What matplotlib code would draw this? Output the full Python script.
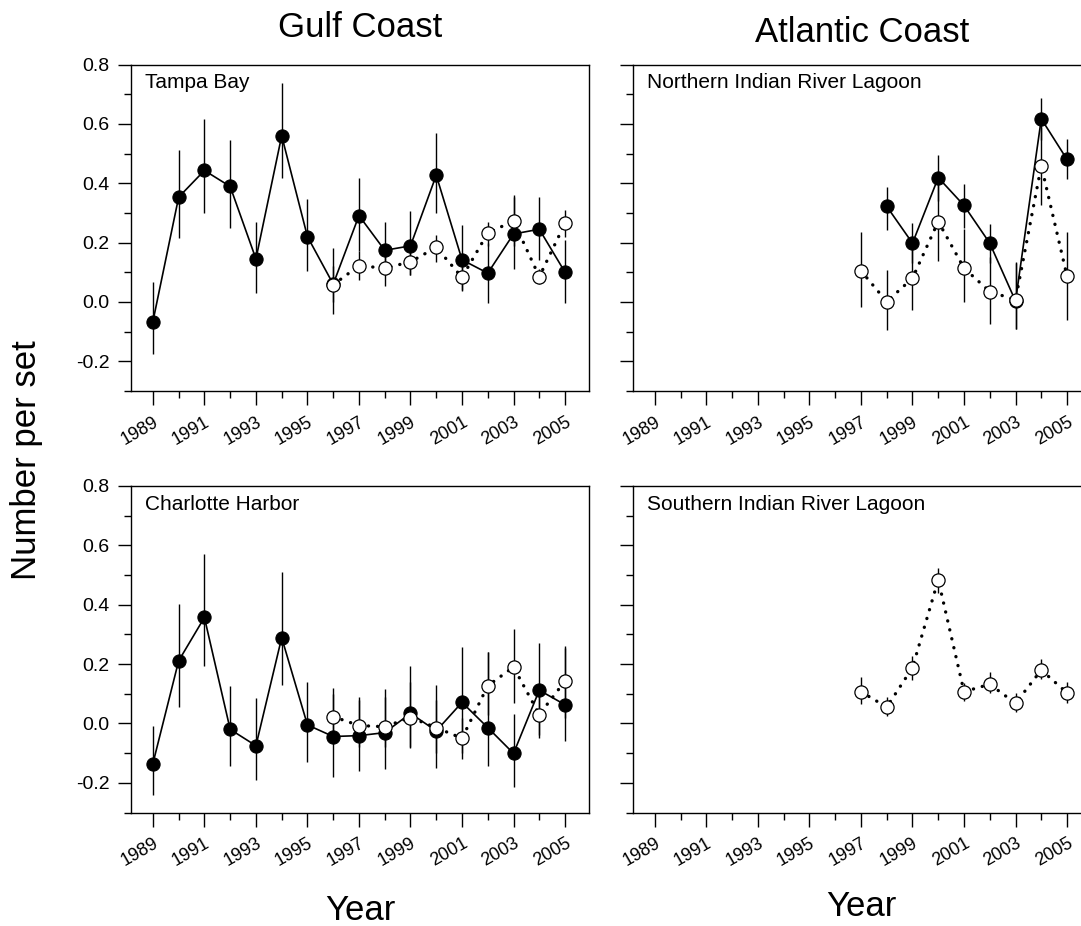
import matplotlib
matplotlib.use('Agg')
import matplotlib.pyplot as plt
from matplotlib.ticker import FixedLocator

plt.rcParams['font.family'] = ['Liberation Sans', 'DejaVu Sans']

# ---- data ----
years_long = list(range(1989, 2006))
years_96 = list(range(1996, 2006))
years_97 = list(range(1997, 2006))
years_98 = list(range(1998, 2006))

# Tampa Bay
tampa_fill = [-0.066, 0.353, 0.443, 0.389, 0.145, 0.560, 0.220, 0.060, 0.291, 0.174, 0.189, 0.427, 0.142, 0.097, 0.229, 0.245, 0.100]
tampa_fill_lo = [-0.175, 0.215, 0.299, 0.249, 0.029, 0.419, 0.105, -0.041, 0.17, 0.09, 0.09, 0.301, 0.04, -0.004, 0.110, 0.14, -0.005]
tampa_fill_hi = [0.066, 0.513, 0.617, 0.546, 0.271, 0.738, 0.347, 0.181, 0.417, 0.271, 0.307, 0.569, 0.260, 0.20, 0.355, 0.355, 0.21]
tampa_open = [0.058, 0.122, 0.114, 0.135, 0.184, 0.083, 0.232, 0.273, 0.085, 0.265]
tampa_open_lo = [0.0, 0.074, 0.054, 0.091, 0.134, 0.038, 0.19, 0.19, 0.06, 0.22]
tampa_open_hi = [0.12, 0.17, 0.17, 0.18, 0.226, 0.13, 0.271, 0.359, 0.11, 0.31]

# Charlotte Harbor
charl_fill = [-0.135, 0.211, 0.357, -0.020, -0.075, 0.289, -0.005, -0.044, -0.041, -0.031, 0.034, -0.025, 0.071, -0.014, -0.101, 0.112, 0.063]
charl_fill_lo = [-0.24, 0.057, 0.195, -0.145, -0.19, 0.130, -0.13, -0.18, -0.16, -0.155, -0.08, -0.15, -0.10, -0.145, -0.215, -0.04, -0.06]
charl_fill_hi = [-0.008, 0.403, 0.572, 0.127, 0.087, 0.510, 0.139, 0.10, 0.08, 0.09, 0.192, 0.13, 0.259, 0.242, 0.031, 0.27, 0.255]
charl_open = [0.023, -0.007, -0.011, 0.020, -0.014, -0.050, 0.127, 0.190, 0.030, 0.143]
charl_open_lo = [-0.06, -0.08, -0.08, -0.084, -0.10, -0.12, 0.03, 0.068, -0.05, 0.02]
charl_open_hi = [0.121, 0.09, 0.115, 0.14, 0.08, 0.02, 0.24, 0.319, 0.12, 0.26]

# Northern Indian River Lagoon
nirl_fill = [0.322, 0.198, 0.419, 0.325, 0.198, 0.003, 0.617, 0.480]
nirl_fill_lo = [0.241, 0.13, 0.34, 0.25, 0.13, -0.09, 0.545, 0.415]
nirl_fill_hi = [0.387, 0.265, 0.496, 0.397, 0.262, 0.136, 0.687, 0.55]
nirl_open = [0.105, 0.001, 0.080, 0.271, 0.114, 0.035, 0.007, 0.459, 0.087]
nirl_open_lo = [-0.016, -0.094, -0.027, 0.138, 0.001, -0.075, -0.09, 0.327, -0.06]
nirl_open_hi = [0.235, 0.106, 0.19, 0.404, 0.245, 0.15, 0.13, 0.59, 0.235]

# Southern Indian River Lagoon
sirl_open = [0.107, 0.055, 0.188, 0.484, 0.107, 0.132, 0.068, 0.180, 0.103]
sirl_open_lo = [0.066, 0.025, 0.147, 0.439, 0.074, 0.102, 0.040, 0.149, 0.07]
sirl_open_hi = [0.156, 0.090, 0.228, 0.525, 0.136, 0.173, 0.102, 0.217, 0.14]

year_labels = [str(y) for y in range(1989, 2006, 2)]


def series(ax, yrs, vals, lo, hi, filled):
    yerr = [[v - l for v, l in zip(vals, lo)], [h - v for v, h in zip(vals, hi)]]
    z = 3 if filled else 5
    ax.errorbar(yrs, vals, yerr=yerr, fmt='none', ecolor='black', elinewidth=1.0, capsize=0, zorder=z)
    if filled:
        ax.plot(yrs, vals, color='black', lw=1.2, zorder=z)
        ax.plot(yrs, vals, ls='none', marker='o', ms=9.5, mfc='black', mec='black', mew=0.8, zorder=z + 0.5)
    else:
        ax.plot(yrs, vals, color='black', lw=2.4, ls=(0, (0.05, 2.7)), dash_capstyle='round', zorder=z)
        ax.plot(yrs, vals, ls='none', marker='o', ms=9.5, mfc='white', mec='black', mew=0.9, zorder=z + 0.5)


def setup(ax, label, ylabels):
    ax.set_xlim(1988.15, 2005.93)
    ax.set_ylim(-0.3, 0.8)
    ax.xaxis.set_major_locator(FixedLocator(range(1989, 2006, 2)))
    ax.xaxis.set_minor_locator(FixedLocator(range(1990, 2005, 2)))
    ax.set_xticklabels(year_labels, rotation=30, ha='right', rotation_mode='anchor', fontsize=13)
    ax.yaxis.set_major_locator(FixedLocator([-0.2, 0.0, 0.2, 0.4, 0.6, 0.8]))
    ax.yaxis.set_minor_locator(FixedLocator([-0.3, -0.1, 0.1, 0.3, 0.5, 0.7]))
    if ylabels:
        ax.set_yticklabels(['-0.2', '0.0', '0.2', '0.4', '0.6', '0.8'], fontsize=14)
    else:
        ax.set_yticklabels([])
    ax.tick_params(which='both', direction='out', width=1.0, color='black')
    ax.tick_params(axis='y', which='major', length=9.5, pad=6)
    ax.tick_params(axis='y', which='minor', length=5)
    ax.tick_params(axis='x', which='major', length=10, pad=6)
    ax.tick_params(axis='x', which='minor', length=5)
    for s in ax.spines.values():
        s.set_linewidth(1.0)
        s.set_color('black')
    ax.text(0.031, 0.928, label, transform=ax.transAxes, fontsize=15, va='baseline', ha='left')


fig = plt.figure(figsize=(10.81, 9.26), dpi=100)
W, H = 1081.0, 926.0
aw, ah = 458 / W, 326.5 / H
ax1 = fig.add_axes([131 / W, 1 - 391 / H, aw, ah])
ax2 = fig.add_axes([633 / W, 1 - 391 / H, aw, ah])
ax3 = fig.add_axes([131 / W, 1 - 812.5 / H, aw, ah])
ax4 = fig.add_axes([633 / W, 1 - 812.5 / H, aw, ah])

series(ax1, years_long, tampa_fill, tampa_fill_lo, tampa_fill_hi, True)
series(ax1, years_96, tampa_open, tampa_open_lo, tampa_open_hi, False)
setup(ax1, 'Tampa Bay', True)

series(ax2, years_98, nirl_fill, nirl_fill_lo, nirl_fill_hi, True)
series(ax2, years_97, nirl_open, nirl_open_lo, nirl_open_hi, False)
setup(ax2, 'Northern Indian River Lagoon', False)

series(ax3, years_long, charl_fill, charl_fill_lo, charl_fill_hi, True)
series(ax3, years_96, charl_open, charl_open_lo, charl_open_hi, False)
setup(ax3, 'Charlotte Harbor', True)

series(ax4, years_97, sirl_open, sirl_open_lo, sirl_open_hi, False)
setup(ax4, 'Southern Indian River Lagoon', False)

fig.text(360 / W, 1 - 37 / H, 'Gulf Coast', fontsize=25, ha='center', va='baseline')
fig.text(862 / W, 1 - 42 / H, 'Atlantic Coast', fontsize=25, ha='center', va='baseline')
fig.text(360 / W, 1 - 920 / H, 'Year', fontsize=25, ha='center', va='baseline')
fig.text(861 / W, 1 - 916 / H, 'Year', fontsize=25, ha='center', va='baseline')
fig.text(27 / W, 1 - 460 / H, 'Number per set', fontsize=25, rotation=90, ha='center', va='center')

fig.savefig('out.png', dpi=100)
